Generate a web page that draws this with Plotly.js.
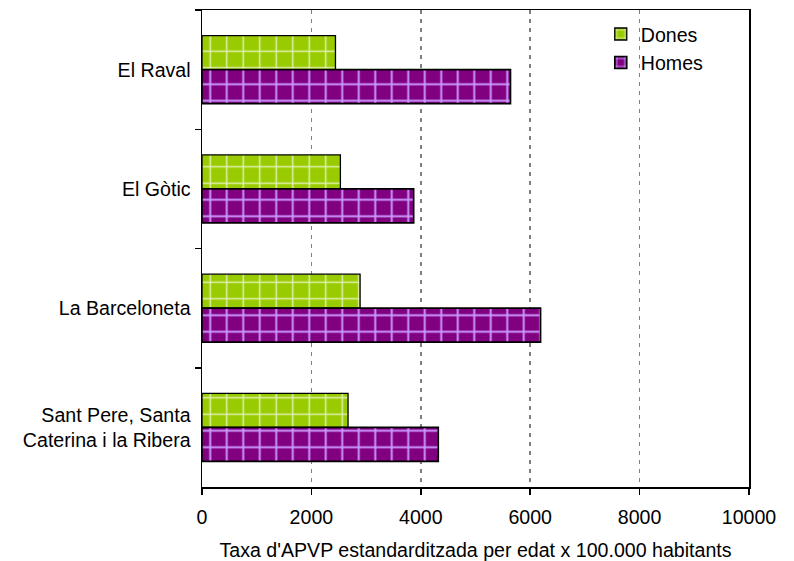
<!DOCTYPE html>
<html>
<head>
<meta charset="utf-8">
<script src="https://cdn.plot.ly/plotly-3.0.1.min.js"></script>
<style>html,body{margin:0;padding:0;background:#fff;}#chart{width:794px;height:561px;}</style>
</head>
<body>
<div id="chart"></div>
<script>
const categories = ["El Raval", "El Gòtic", "La Barceloneta", "Sant Pere, Santa<br>Caterina i la Ribera"];
const dones = [2440, 2530, 2890, 2670];
const homes = [5640, 3870, 6190, 4320];
const seriesNames = ["Dones", "Homes"];
const xTicks = [0, 2000, 4000, 6000, 8000, 10000];
const xTitle = "Taxa d'APVP estandarditzada per edat x 100.000 habitants";

const font = {family: "Liberation Sans, Arial, sans-serif", size: 19.6, color: "#000"};

const traces = [
  {
    type: "bar", orientation: "h", name: seriesNames[0],
    x: dones, y: categories,
    marker: {
      color: "#99cc00",
      line: {color: "#000", width: 1.3},
      pattern: {shape: "+", bgcolor: "#99cc00", fgcolor: "#ffffff", fgopacity: 0.7, size: 16.5, solidity: 0.17, fillmode: "replace"}
    }
  },
  {
    type: "bar", orientation: "h", name: seriesNames[1],
    x: homes, y: categories,
    marker: {
      color: "#800080",
      line: {color: "#000", width: 1.6},
      pattern: {shape: "+", bgcolor: "#800080", fgcolor: "#cc99ff", fgopacity: 1, size: 16.5, solidity: 0.22, fillmode: "replace"}
    }
  }
];

const layout = {
  width: 794, height: 561,
  margin: {l: 202, r: 45, t: 10, b: 74},
  paper_bgcolor: "#fff", plot_bgcolor: "#fff",
  font: font,
  barmode: "group",
  bargap: 0.43, bargroupgap: 0,
  showlegend: true,
  legend: {
    x: 0.729, y: 0.99, xanchor: "left", yanchor: "top",
    bgcolor: "rgba(0,0,0,0)", borderwidth: 0,
    font: font, traceorder: "normal"
  },
  xaxis: {
    range: [0, 10000], tickvals: xTicks, ticktext: xTicks.map(String),
    showline: true, linecolor: "#000", linewidth: 1.5, mirror: true,
    ticks: "outside", ticklen: 6, tickwidth: 1.5, tickcolor: "#000",
    ticklabelstandoff: 6,
    showgrid: true, gridcolor: "#808080", gridwidth: 1.6, griddash: "4px,5px",
    zeroline: false,
    tickfont: font,
    title: {text: xTitle, font: font, standoff: 18}
  },
  yaxis: {
    type: "category", autorange: "reversed",
    showline: true, linecolor: "#000", linewidth: 1.5, mirror: true,
    ticks: "outside", ticklen: 6, tickwidth: 1.5, tickcolor: "#000",
    tickson: "boundaries", ticklabelstandoff: 6,
    showgrid: false, zeroline: false,
    tickfont: font
  }
};

Plotly.newPlot("chart", traces, layout, {displayModeBar: false, staticPlot: true});
</script>
</body>
</html>
